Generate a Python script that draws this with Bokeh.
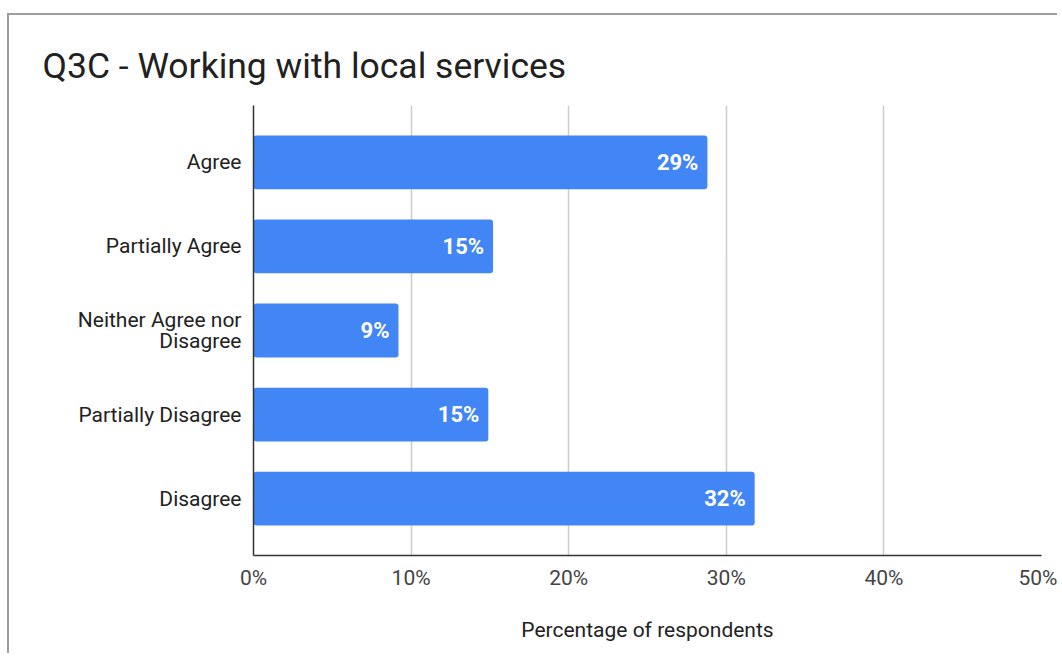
from bokeh.plotting import figure
from bokeh.models import FactorRange, Range1d, FixedTicker, PrintfTickFormatter, Title, ColumnDataSource
from bokeh.core.properties import value
from bokeh.embed import file_html
from bokeh.resources import INLINE

categories = ["Agree", "Partially Agree", "Neither Agree nor\nDisagree", "Partially Disagree", "Disagree"]
percentages = [28.8, 15.2, 9.2, 14.9, 31.8]
labels = ["29%", "15%", "9%", "15%", "32%"]
x_ticks = [0, 10, 20, 30, 40, 50]

FONT = "Roboto"
BLUE = "#4285F4"

src = ColumnDataSource(dict(cat=categories, val=percentages, lab=labels))

p = figure(
    width=1050, height=640,
    y_range=FactorRange(factors=list(reversed(categories)), range_padding=0.178, range_padding_units="absolute"),
    x_range=Range1d(0, 50),
    output_backend="svg", toolbar_location=None,
    min_border_left=244, min_border_right=18, min_border_top=90, min_border_bottom=100,
)
p.styles = {"border-left": "2px solid #9e9e9e", "border-top": "2px solid #9e9e9e",
            "margin-top": "13px", "margin-left": "7px"}
p.outline_line_color = None

p.hbar(y="cat", right="val", left=0, height=0.64, source=src, fill_color=BLUE, line_color=None, border_radius=3)
p.text(x="val", y="cat", text="lab", source=src, text_align="right", text_baseline="middle",
       x_offset=-9, text_color="white", text_font=value(FONT), text_font_size="22px", text_font_style="bold")

t = Title(text="Q3C - Working with local services", text_font=FONT, text_font_size="35.5px",
          text_font_style="normal", text_color="#212121", align="left", offset=-211, standoff=37)
p.add_layout(t, "above")

p.xaxis.ticker = FixedTicker(ticks=x_ticks)
p.xaxis.formatter = PrintfTickFormatter(format="%d%%")
p.xaxis.major_tick_line_color = None
p.xaxis.major_tick_out = 0
p.xaxis.major_tick_in = 0
p.xaxis.minor_tick_line_color = None
p.xaxis.axis_line_color = "#333333"
p.xaxis.axis_line_width = 1.5
p.xaxis.major_label_text_font = FONT
p.xaxis.major_label_text_font_size = "21px"
p.xaxis.major_label_text_color = "#444444"
p.xaxis.major_label_standoff = 10
p.xaxis.axis_label = "Percentage of respondents"
p.xaxis.axis_label_text_font = FONT
p.xaxis.axis_label_text_font_size = "21px"
p.xaxis.axis_label_text_font_style = "normal"
p.xaxis.axis_label_text_color = "#222222"
p.xaxis.axis_label_standoff = 25

p.yaxis.major_tick_line_color = None
p.yaxis.major_tick_out = 0
p.yaxis.major_tick_in = 0
p.yaxis.minor_tick_line_color = None
p.yaxis.axis_line_color = "#333333"
p.yaxis.axis_line_width = 1.5
p.yaxis.major_label_text_font = FONT
p.yaxis.major_label_text_font_size = "21px"
p.yaxis.major_label_text_color = "#222222"
p.yaxis.major_label_text_line_height = 0.9
p.yaxis.major_label_standoff = 12

p.xgrid.ticker = FixedTicker(ticks=x_ticks)
p.xgrid.grid_line_color = "#cccccc"
p.xgrid.grid_line_width = 1.5
p.ygrid.grid_line_color = None

open("out.html", "w").write(file_html(p, INLINE))
